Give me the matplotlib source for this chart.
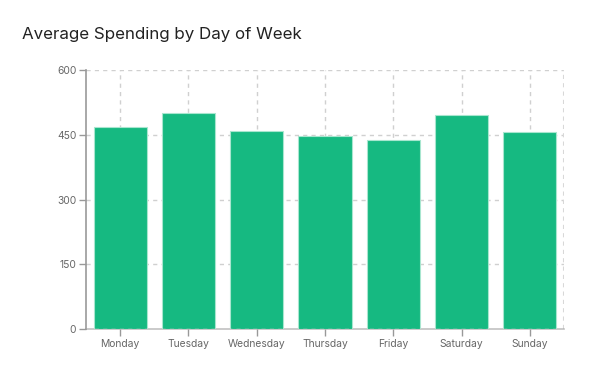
import matplotlib
matplotlib.use("Agg")
import matplotlib.pyplot as plt

days = ["Monday", "Tuesday", "Wednesday", "Thursday", "Friday", "Saturday", "Sunday"]
spending = [468, 500, 459, 447, 438, 496, 456]
yticks = [0, 150, 300, 450, 600]

plt.rcParams["font.family"] = ["Inter", "DejaVu Sans"]

fig = plt.figure(figsize=(5.93, 3.71), dpi=100)
ax = fig.add_axes([86 / 593, 42 / 371, 478 / 593, 259 / 371])

x = list(range(len(days)))
ax.bar(x, spending, width=0.78, color="#16b981", edgecolor="#a8e6cf", linewidth=0.8, zorder=3)

ax.set_xlim(-0.5, len(days) - 0.5)
ax.set_ylim(0, 600)
ax.set_yticks(yticks)
ax.set_xticks(x)
ax.set_xticklabels(days)

grid_kw = dict(color="#d0d0d0", lw=1, ls=(0, (3, 3)), zorder=1)
for v in yticks[1:]:
    ax.axhline(v, **grid_kw)
for xi in x:
    ax.axvline(xi, **grid_kw)
ax.axvline(len(days) - 0.5, color="#d8d8d8", lw=1.5, ls=(0, (2, 2)), zorder=1)
ax.axhline(0, color="#d0d0d0", lw=1, ls=(0, (3, 3)), zorder=4)

for s in ["top", "right"]:
    ax.spines[s].set_visible(False)
for s in ["left", "bottom"]:
    ax.spines[s].set_color("#999999")
    ax.spines[s].set_linewidth(1.2)
ax.spines["bottom"].set_alpha(0.6)

ax.tick_params(axis="both", colors="#999999", length=5, width=1, labelsize=7.4, labelcolor="#666666")
ax.tick_params(axis="x", pad=2)
ax.tick_params(axis="y", pad=2)

fig.text(22 / 593, 1 - 35 / 371, "Average Spending by Day of Week", fontsize=12.2, color="#222222",
         va="center", ha="left")

fig.savefig("out.png", dpi=100)
